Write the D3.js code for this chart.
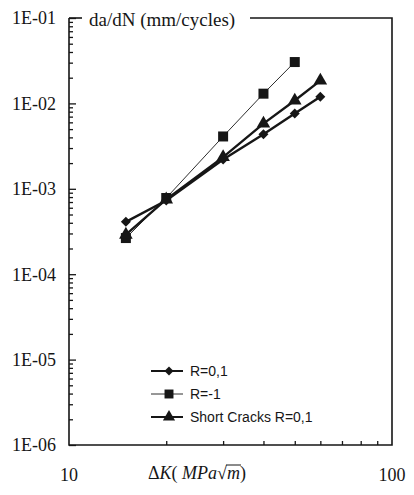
<!DOCTYPE html>
<html>
<head>
<meta charset="utf-8">
<script src="https://cdn.jsdelivr.net/npm/d3@7"></script>
<style>
  body { margin: 0; background: #fff; }
  svg { display: block; }
</style>
</head>
<body>
<div id="chart"></div>
<script>
// stress intensity range values (MPa sqrt m)
let deltaK = [15, 20, 30, 40, 50, 60];

// crack growth rate series (mm/cycle)
let r01 = [4.1e-4, 7.3e-4, 2.2e-3, 4.35e-3, 7.6e-3, 1.2e-2];
let rMinus1 = [2.65e-4, 7.8e-4, 4.1e-3, 1.3e-2, 3.05e-2];
let shortCracks = [2.9e-4, 7.5e-4, 2.35e-3, 5.8e-3, 1.08e-2, 1.85e-2];

let yTickLabels = ["1E-06", "1E-05", "1E-04", "1E-03", "1E-02", "1E-01"];
let xTickLabels = ["10", "100"];
let legendNames = ["R=0,1", "R=-1", "Short Cracks R=0,1"];

let WIDTH = 414, HEIGHT = 495;
let LEFT = 69, RIGHT = 392, TOP = 18, BOTTOM = 445;
let INK = "#161616";

let svg = d3.select("#chart").append("svg")
    .attr("width", WIDTH)
    .attr("height", HEIGHT);

let x = d3.scaleLog().domain([10, 100]).range([LEFT, RIGHT]);
let y = d3.scaleLog().domain([1e-6, 1e-1]).range([BOTTOM, TOP]);

// frame
let frame = svg.append("g").attr("stroke", INK).attr("stroke-width", 1.6).attr("fill", "none");
frame.append("path").attr("d", `M${LEFT},${TOP}V${BOTTOM}H${RIGHT}V${TOP}H250`);
frame.append("path").attr("d", `M${LEFT},${TOP}H82`);

// y ticks pointing inward
let yMinor = [];
for (let e = -6; e < -1; e++) {
    for (let m = 2; m <= 9; m++) yMinor.push(m * Math.pow(10, e));
}
svg.append("g").attr("transform", `translate(${LEFT},0)`)
    .call(d3.axisRight(y).tickValues(yMinor).tickSize(4).tickFormat(""))
    .call(g => g.select(".domain").remove())
    .call(g => g.selectAll("line").attr("stroke", INK).attr("stroke-width", 1.3));
svg.append("g").attr("transform", `translate(${LEFT},0)`)
    .call(d3.axisRight(y).tickValues([1e-6, 1e-5, 1e-4, 1e-3, 1e-2, 1e-1]).tickSize(7).tickFormat(""))
    .call(g => g.select(".domain").remove())
    .call(g => g.selectAll("line").attr("stroke", INK).attr("stroke-width", 1.3));

svg.append("g").selectAll("text")
    .data(yTickLabels)
    .enter()
    .append("text")
    .attr("x", 56)
    .attr("y", (d, i) => y(Math.pow(10, i - 6)))
    .attr("dy", "0.35em")
    .attr("text-anchor", "end")
    .style("font", "18px 'Liberation Serif', 'Times New Roman', serif")
    .attr("fill", INK)
    .text(d => d);

// x ticks pointing inward
let xMinor = [20, 30, 40, 50, 60, 70, 80, 90];
svg.append("g").attr("transform", `translate(0,${BOTTOM})`)
    .call(d3.axisTop(x).tickValues(xMinor).tickSize(4).tickFormat(""))
    .call(g => g.select(".domain").remove())
    .call(g => g.selectAll("line").attr("stroke", INK).attr("stroke-width", 1.3));

svg.append("g").selectAll("text")
    .data(xTickLabels)
    .enter()
    .append("text")
    .attr("x", d => x(+d))
    .attr("y", 481)
    .attr("text-anchor", "middle")
    .style("font", "18px 'Liberation Serif', 'Times New Roman', serif")
    .attr("fill", INK)
    .text(d => d);

// axis titles
svg.append("text")
    .attr("x", 89)
    .attr("y", 26)
    .style("font", "19px 'Liberation Serif', 'Times New Roman', serif")
    .attr("fill", INK)
    .text("da/dN (mm/cycles)");

let xt = svg.append("text")
    .attr("x", 148)
    .attr("y", 479)
    .style("font", "18px 'Liberation Serif', 'Times New Roman', serif")
    .attr("fill", INK);
xt.append("tspan").text("\u0394");
xt.append("tspan").style("font-style", "italic").text("K");
xt.append("tspan").text("( ");
xt.append("tspan").style("font-style", "italic").text("MPa");
xt.append("tspan").attr("id", "sqrt").text("\u221A");
xt.append("tspan").attr("id", "msym").style("font-style", "italic").text("m");
xt.append("tspan").text(")");

let mBox = document.getElementById("msym").getBBox();
let sBox = document.getElementById("sqrt").getBBox();
svg.append("line")
    .attr("x1", sBox.x + sBox.width - 1)
    .attr("x2", mBox.x + mBox.width + 1)
    .attr("y1", sBox.y + 2)
    .attr("y2", sBox.y + 2)
    .attr("stroke", INK)
    .attr("stroke-width", 1);

// series (diamond = square turned 45 degrees)
let series = [
    { name: legendNames[0], values: r01, width: 2.4, symbol: d3.symbolSquare, size: 50, rot: 45 },
    { name: legendNames[1], values: rMinus1, width: 0.9, symbol: d3.symbolSquare, size: 100, rot: 0 },
    { name: legendNames[2], values: shortCracks, width: 2.4, symbol: d3.symbolTriangle, size: 80, rot: 0 }
];

let line = d3.line()
    .x((d, i) => x(deltaK[i]))
    .y(d => y(d));

series.forEach(s => {
    svg.append("path")
        .attr("d", line(s.values))
        .attr("fill", "none")
        .attr("stroke", INK)
        .attr("stroke-width", s.width);
});

series.forEach(s => {
    svg.append("g").selectAll("path")
        .data(s.values)
        .enter()
        .append("path")
        .attr("d", d3.symbol().type(s.symbol).size(s.size))
        .attr("transform", (d, i) => `translate(${x(deltaK[i])},${y(d)}) rotate(${s.rot})`)
        .attr("fill", INK);
});

// legend
let legend = svg.append("g").attr("transform", "translate(151,371)");
series.forEach((s, i) => {
    let row = legend.append("g").attr("transform", `translate(0,${i * 23})`);
    row.append("line")
        .attr("x1", 0).attr("x2", 32)
        .attr("stroke", INK)
        .attr("stroke-width", s.width > 1 ? 2 : 0.9);
    row.append("path")
        .attr("d", d3.symbol().type(s.symbol).size(s.size * 0.8))
        .attr("transform", `translate(18,0) rotate(${s.rot})`)
        .attr("fill", INK);
    row.append("text")
        .attr("x", 39)
        .attr("dy", "0.36em")
        .style("font", "14px 'Liberation Sans', Arial, sans-serif")
        .attr("fill", INK)
        .text(s.name);
});
</script>
</body>
</html>
